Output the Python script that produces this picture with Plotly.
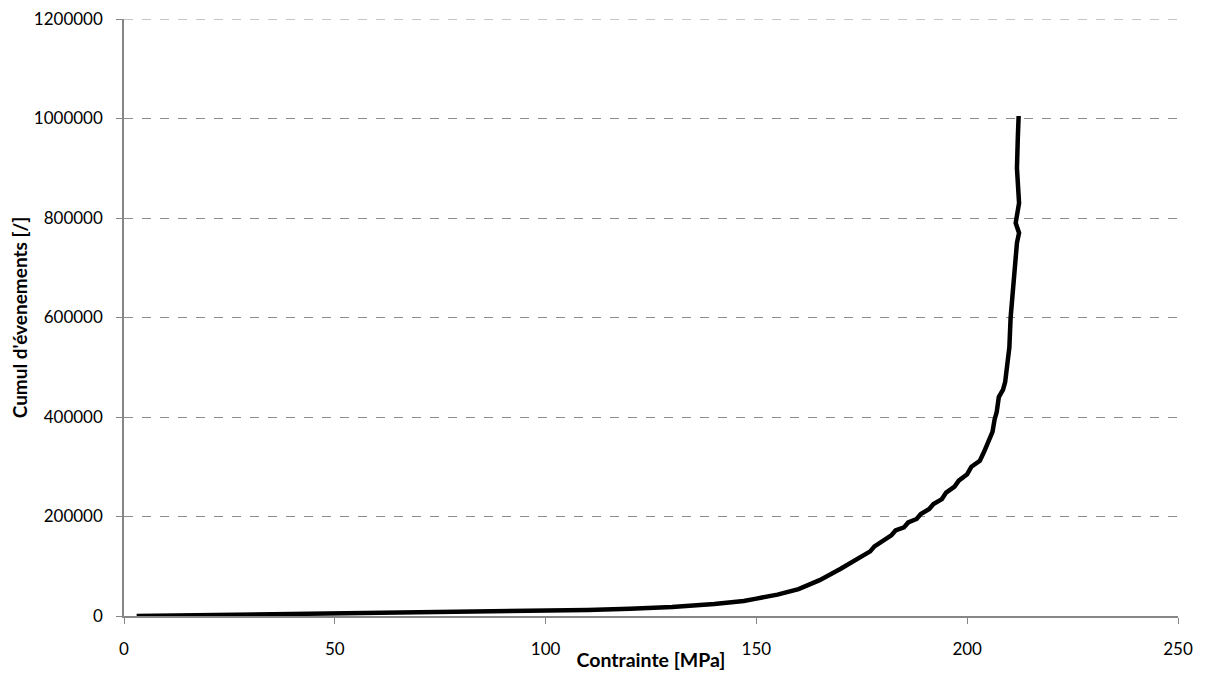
import plotly.graph_objects as go

# Contrainte [MPa] vs cumulative acoustic emission events
contrainte = [3, 10, 20, 30, 40, 50, 60, 70, 80, 90, 100, 110, 120, 130, 140, 147, 150, 155,
              160, 165, 170, 173, 175, 177, 178, 180, 182, 183, 185, 186, 188, 189, 191, 192,
              194, 195, 197, 198, 200, 201, 203, 204, 205, 206, 206.5, 207, 207.5, 208.5, 209,
              210, 210.3, 210.8, 211.2, 211.8, 212.3, 211.5, 212.3, 211.8, 212, 212.2]
cumul = [0, 800, 1500, 2300, 3000, 3800, 4800, 5800, 7000, 8500, 10000, 12000, 14500, 18000,
         24000, 30000, 35000, 43000, 54000, 72000, 95000, 110000, 120000, 130000, 140000,
         150000, 162000, 172000, 178000, 188000, 195000, 205000, 215000, 225000, 235000,
         248000, 260000, 272000, 285000, 300000, 312000, 330000, 350000, 370000, 395000,
         410000, 440000, 455000, 470000, 540000, 600000, 650000, 700000, 750000, 770000,
         790000, 830000, 900000, 960000, 1005000]

x_ticks = [0, 50, 100, 150, 200, 250]
y_ticks = [0, 200000, 400000, 600000, 800000, 1000000, 1200000]

fig = go.Figure()
fig.add_trace(go.Scatter(
    x=contrainte, y=cumul, mode='lines',
    line=dict(color='black', width=4.5),
    showlegend=False
))

# top gridline sits on the plot edge, draw it explicitly
fig.add_shape(type='line', xref='paper', yref='y', x0=0, x1=1,
              y0=y_ticks[-1], y1=y_ticks[-1],
              line=dict(color='#8c8c8c', width=1, dash='dash'), layer='below')

font_family = 'Lato, Open Sans, sans-serif'
fig.update_layout(
    margin=dict(l=116, r=19, t=11, b=55),
    plot_bgcolor='white', paper_bgcolor='white',
    font=dict(family=font_family, size=17, color='black'),
)
fig.update_xaxes(
    range=[0, 250], tickvals=x_ticks, showgrid=False, zeroline=False, automargin=False,
    showline=True, linecolor='#868686', linewidth=1.5,
    ticks='outside', ticklen=6, tickcolor='#868686', ticklabelstandoff=11,
    title=dict(text='<b>Contrainte [MPa]</b>', font=dict(size=19.5), standoff=10)
)
fig.update_yaxes(
    range=[0, 1200000], tickvals=y_ticks, tickformat='d', automargin=False,
    ticklabeloverflow='allow',
    showgrid=True, gridcolor='#8c8c8c', griddash='dash', gridwidth=1,
    zeroline=False, showline=True, linecolor='#868686', linewidth=1.5,
    ticks='outside', ticklen=6, tickcolor='#868686', ticklabelstandoff=10,
    title=dict(text="<b>Cumul d'évenements [/]</b>", font=dict(size=19), standoff=5)
)

fig.write_html("out.html")
